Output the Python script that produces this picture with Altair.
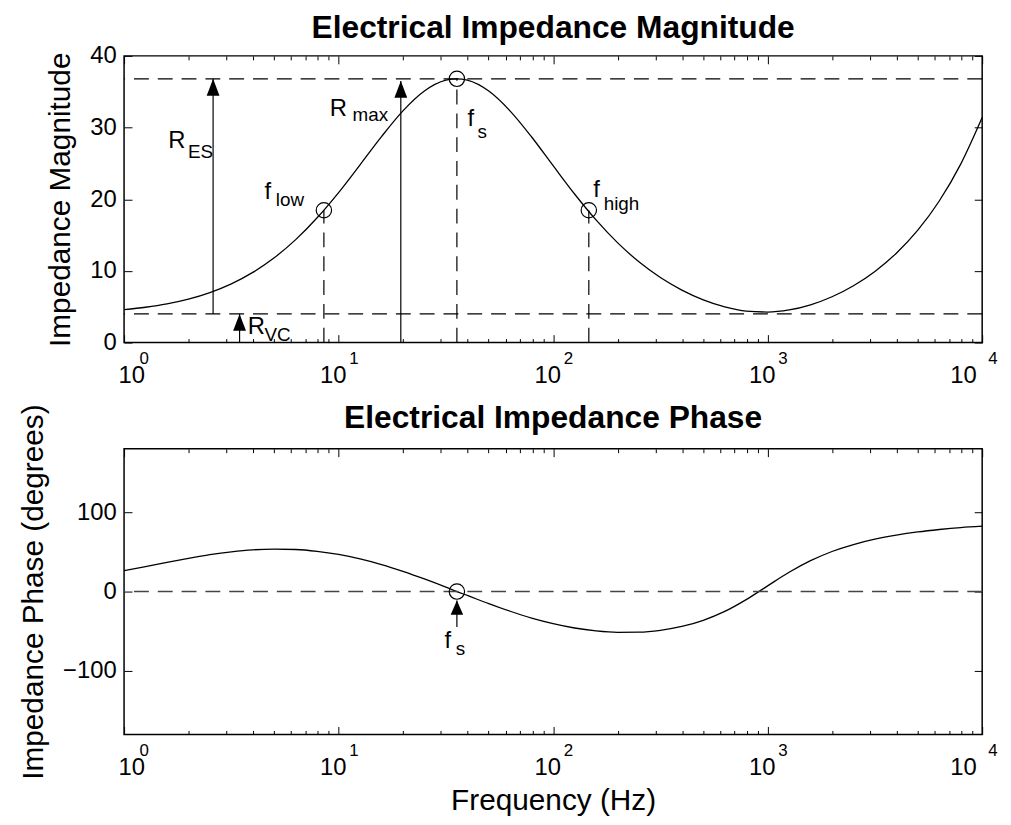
import altair as alt
import pandas as pd

# ---------------- data ----------------
freq = [1.0, 1.2589, 1.5849, 1.9953, 2.5119, 3.1623, 3.9811, 5.0119, 6.3096, 7.9433,
        10.0, 12.589, 15.849, 19.953, 25.119, 31.623, 35.6, 39.811, 50.119, 63.096,
        79.433, 100.0, 125.89, 158.49, 199.53, 251.19, 316.23, 398.11, 501.19, 630.96,
        794.33, 1000.0, 1258.9, 1584.9, 1995.3, 2511.9, 3162.3, 3981.1, 5011.9, 6309.6,
        7943.3, 10000.0]
magnitude = [4.61, 4.93, 5.39, 6.05, 6.97, 8.19, 9.79, 11.83, 14.36, 17.41,
             20.93, 24.80, 28.73, 32.32, 35.09, 36.60, 36.80, 36.61, 35.09, 32.30,
             28.68, 24.68, 20.73, 17.11, 13.94, 11.27, 9.07, 7.32, 5.96, 4.98,
             4.39, 4.26, 4.55, 5.27, 6.39, 7.93, 9.93, 12.47, 15.68, 19.75,
             24.90, 31.40]
phase = [26.4, 31.4, 36.8, 41.9, 46.5, 50.1, 52.6, 53.5, 53.0, 50.7,
         46.8, 41.2, 34.1, 25.5, 15.9, 5.6, 0.0, -4.9, -15.2, -24.8,
         -33.4, -40.4, -45.9, -49.5, -51.3, -51.1, -48.8, -44.0, -36.2, -25.0,
         -10.1, 7.2, 24.3, 38.9, 50.5, 59.3, 66.0, 71.1, 75.1, 78.2,
         80.7, 82.4]

R_max = 36.8
R_vc = 4.0
marker_freq = [8.54, 35.6, 146.7]
marker_mag = [18.46, 36.8, 18.46]

arrow_freq = [2.6, 19.5, 3.455]
arrow_from = [4.0, 0.0, 0.0]
arrow_to = [36.8, 36.5, 4.0]

label_main = ["R", "R", "f", "f", "f", "R"]
label_main_freq = [1.605, 9.10, 39.9, 4.51, 153.7, 3.77]
label_main_val = [27.2, 31.6, 30.2, 20.07, 20.3, 1.16]
label_sub = ["ES", "max", "s", "low", "high", "VC"]
label_sub_freq = [1.987, 11.62, 44.4, 5.10, 172.1, 4.51]
label_sub_val = [25.8, 30.9, 28.6, 19.06, 18.46, 0.24]

phase_marker_freq = [35.6]
phase_marker_val = [0.0]
phase_arrow_freq = [35.6]
phase_arrow_from = [-44.5]
phase_arrow_to = [-11.3]
phase_label_main = ["f"]
phase_label_main_freq = [31.2]
phase_label_main_val = [-71.5]
phase_label_sub = ["s"]
phase_label_sub_freq = [35.2]
phase_label_sub_val = [-79.9]

decades = [1, 10, 100, 1000, 10000]
minor_ticks = [2, 3, 4, 5, 6, 7, 8, 9,
               20, 30, 40, 50, 60, 70, 80, 90,
               200, 300, 400, 500, 600, 700, 800, 900,
               2000, 3000, 4000, 5000, 6000, 7000, 8000, 9000]
mag_ticks = [0, 10, 20, 30, 40]
phase_ticks = [-100, 0, 100]

titles = ["Electrical Impedance Magnitude", "Electrical Impedance Phase"]

# ---------------- styling ----------------
FONT = "Liberation Sans"
W = 865
H1 = 289
H2 = 288
TICK_FS = 24
EXP_FS = 17
LABEL_FS = 30
TITLE_FS = 32
DASH = [15, 9]

xscale = alt.Scale(type="log", domain=[1, 10000], nice=False, zero=False)


def x_axes(title):
    common = dict(domain=False, grid=False)
    return [
        alt.Axis(orient="bottom", values=decades, labelExpr="'10'", labelFontSize=TICK_FS,
                 labelPadding=21, labelOffset=-6, ticks=False, tickSize=0, title=title,
                 titleFontSize=LABEL_FS, titlePadding=7, titleFontWeight="normal", **common),
        alt.Axis(orient="bottom", values=decades,
                 labelExpr="'' + round(log(datum.value) / LN10)", labelFontSize=EXP_FS,
                 labelPadding=8, labelOffset=15, ticks=False, tickSize=0, title=None, **common),
        alt.Axis(orient="bottom", values=decades, labels=False, ticks=True, tickSize=8,
                 offset=-8, title=None, **common),
        alt.Axis(orient="bottom", values=minor_ticks, labels=False, ticks=True, tickSize=4,
                 offset=-4, title=None, **common),
        alt.Axis(orient="top", values=decades, labels=False, ticks=True, tickSize=8,
                 offset=-8, title=None, **common),
        alt.Axis(orient="top", values=minor_ticks, labels=False, ticks=True, tickSize=4,
                 offset=-4, title=None, **common),
    ]


def y_axes(values, title):
    common = dict(domain=False, grid=False)
    return [
        alt.Axis(orient="left", values=values, labelFontSize=TICK_FS, labelPadding=8,
                 ticks=False, tickSize=0, title=title, titleFontSize=LABEL_FS,
                 titlePadding=14, titleFontWeight="normal", **common),
        alt.Axis(orient="left", values=values, labels=False, ticks=True, tickSize=8,
                 offset=-8, title=None, **common),
        alt.Axis(orient="right", values=values, labels=False, ticks=True, tickSize=8,
                 offset=-8, title=None, **common),
    ]


def panel(curve_col, ydomain, yticks, ytitle, xtitle, title, title_y, height,
          hlines, markers, arrows, mains, subs, head_path, head_size, hline_color, hline_width):
    ys = alt.Scale(domain=ydomain, nice=False, zero=False)
    xa = x_axes(xtitle)
    ya = y_axes(yticks, ytitle)
    curve_df = pd.DataFrame({"f": freq, "v": curve_col})

    curve = alt.Chart(curve_df).mark_line(color="black", strokeWidth=1.3, interpolate="monotone").encode(
        x=alt.X("f:Q", scale=xscale, axis=xa[0]),
        y=alt.Y("v:Q", scale=ys, axis=ya[0]),
    )
    hl = alt.Chart(pd.DataFrame({"v": hlines})).mark_rule(
        color=hline_color, strokeWidth=hline_width, strokeDash=DASH).encode(
        y=alt.Y("v:Q", scale=ys, axis=None),
    )
    mdf = pd.DataFrame({"f": markers[0], "v": markers[1], "base": [ydomain[0]] * len(markers[0])})
    layers = [curve, hl]
    if markers[2]:
        vl = alt.Chart(mdf).mark_rule(color="black", strokeWidth=1.2, strokeDash=DASH).encode(
            x=alt.X("f:Q", scale=xscale, axis=xa[1]),
            y=alt.Y("base:Q", scale=ys, axis=ya[1]),
            y2="v:Q",
        )
        circ = alt.Chart(mdf).mark_point(shape="circle", filled=False, size=240, color="black",
                                          strokeWidth=1.2, opacity=1).encode(
            x=alt.X("f:Q", scale=xscale, axis=xa[2]),
            y=alt.Y("v:Q", scale=ys, axis=ya[2]),
        )
        layers += [vl, circ]
        ax_shaft, ax_head, ax_main, ax_sub = xa[3], xa[4], xa[5], None
    else:
        circ = alt.Chart(mdf).mark_point(shape="circle", filled=False, size=240, color="black",
                                          strokeWidth=1.2, opacity=1).encode(
            x=alt.X("f:Q", scale=xscale, axis=xa[1]),
            y=alt.Y("v:Q", scale=ys, axis=ya[1]),
        )
        layers += [circ]
        ax_shaft, ax_head, ax_main, ax_sub = xa[2], xa[3], xa[4], xa[5]
    adf = pd.DataFrame({"f": arrows[0], "a": arrows[1], "b": arrows[2]})
    shaft = alt.Chart(adf).mark_rule(color="black", strokeWidth=1.2).encode(
        x=alt.X("f:Q", scale=xscale, axis=ax_shaft),
        y=alt.Y("a:Q", scale=ys, axis=(None if markers[2] else ya[2])),
        y2="b:Q",
    )
    head = alt.Chart(adf).mark_point(shape=head_path, size=head_size, filled=True, color="black",
                                     opacity=1, strokeWidth=0).encode(
        x=alt.X("f:Q", scale=xscale, axis=ax_head),
        y=alt.Y("b:Q", scale=ys, axis=None),
    )
    tdf = pd.DataFrame({"f": mains[1], "v": mains[2], "t": mains[0]})
    sdf = pd.DataFrame({"f": subs[1], "v": subs[2], "t": subs[0]})
    tmain = alt.Chart(tdf).mark_text(align="left", baseline="alphabetic", fontSize=TICK_FS,
                                     font=FONT, color="black").encode(
        x=alt.X("f:Q", scale=xscale, axis=ax_main),
        y=alt.Y("v:Q", scale=ys, axis=None),
        text="t:N",
    )
    tsub = alt.Chart(sdf).mark_text(align="left", baseline="alphabetic", fontSize=19,
                                    font=FONT, color="black").encode(
        x=alt.X("f:Q", scale=xscale, axis=ax_sub),
        y=alt.Y("v:Q", scale=ys, axis=None),
        text="t:N",
    )
    ttl = alt.Chart(pd.DataFrame({"t": [title]})).mark_text(
        align="center", baseline="alphabetic", fontSize=TITLE_FS, fontWeight="bold",
        font=FONT, color="black").encode(
        x=alt.value(W / 2), y=alt.value(title_y), text="t:N",
    )
    layers += [shaft, head, tmain, tsub, ttl]
    return alt.layer(*layers).resolve_axis(x="independent", y="independent").properties(
        width=W, height=height,
    )


top = panel(magnitude, [0, 40], mag_ticks, "Impedance Magnitude", None,
            titles[0], -18, H1,
            [R_max, R_vc], (marker_freq, marker_mag, True),
            (arrow_freq, arrow_from, arrow_to),
            (label_main, label_main_freq, label_main_val),
            (label_sub, label_sub_freq, label_sub_val),
            "M0,0L0.38,1L-0.38,1Z", 1156, "black", 1.2)

bottom = panel(phase, [-180, 180], phase_ticks, "Impedance Phase (degrees)", "Frequency (Hz)",
               titles[1], -21, H2,
               [0.0], (phase_marker_freq, phase_marker_val, False),
               (phase_arrow_freq, phase_arrow_from, phase_arrow_to),
               (phase_label_main, phase_label_main_freq, phase_label_main_val),
               (phase_label_sub, phase_label_sub_freq, phase_label_sub_val),
               "M0,0L0.44,1L-0.44,1Z", 818, "#444444", 1.5)

chart = alt.vconcat(top, bottom, spacing=13).properties(
    padding={"left": 10, "top": 0, "right": 5, "bottom": 0},
    background="white",
).configure_view(stroke="black", strokeWidth=1.5).configure_axis(
    labelFont=FONT, titleFont=FONT, labelColor="black", titleColor="black",
    tickColor="black", tickWidth=1, grid=False,
)

chart.save("out.html", embed_options={"renderer": "svg", "actions": False})
